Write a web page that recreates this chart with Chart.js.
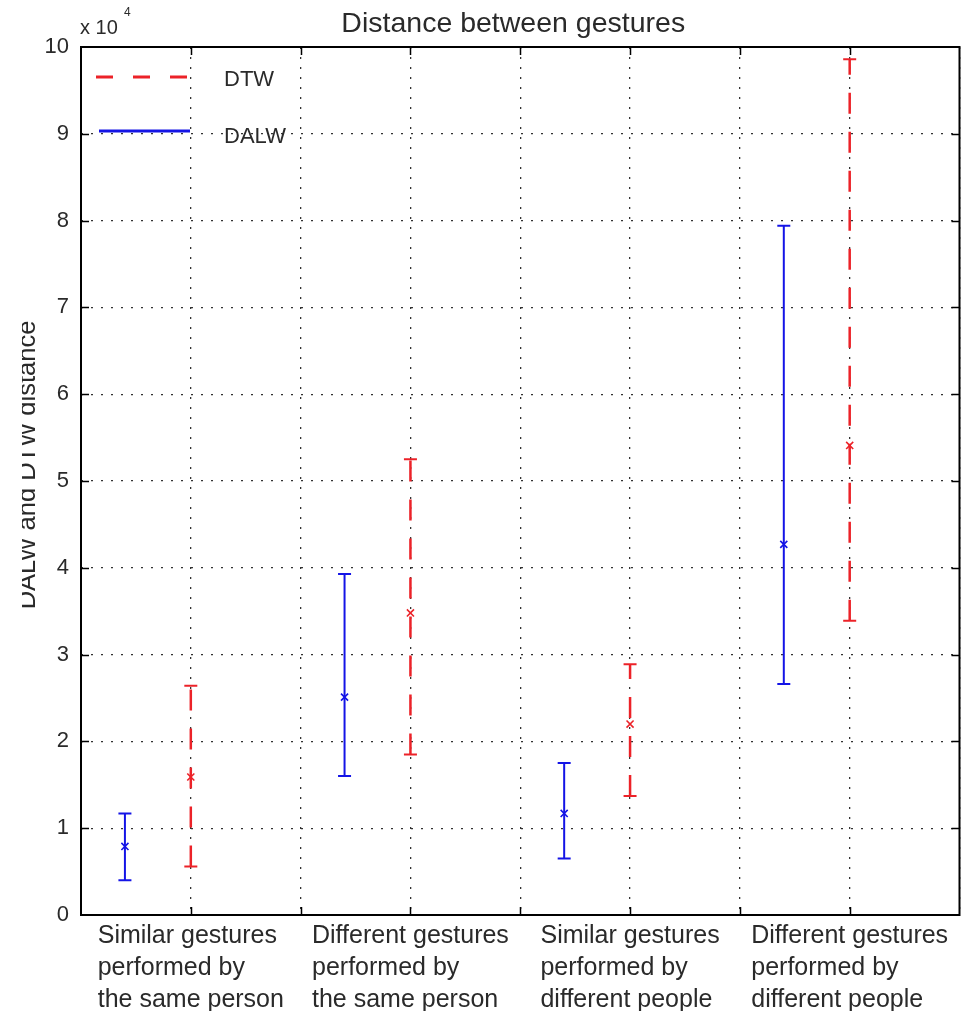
<!DOCTYPE html>
<html>
<head>
<meta charset="utf-8">
<script src="https://cdn.jsdelivr.net/npm/chart.js@4"></script>
<style>
  html, body { margin: 0; padding: 0; background: #ffffff; }
  canvas { display: block; }
</style>
</head>
<body>
<canvas id="c" width="968" height="1011"></canvas>
<script>
// ---------------- data ----------------
const categories = [
  ["Similar gestures", "performed by", "the same person"],
  ["Different gestures", "performed by", "the same person"],
  ["Similar gestures", "performed by", "different people"],
  ["Different gestures", "performed by", "different people"]
];
const seriesNames = ["DTW", "DALW"];
const dalwMean = [7900, 25100, 11700, 42700];
const dalwLow  = [4000, 16000, 6500, 26600];
const dalwHigh = [11700, 39300, 17500, 79400];
const dtwMean  = [15900, 34800, 22000, 54100];
const dtwLow   = [5600, 18500, 13700, 33900];
const dtwHigh  = [26400, 52500, 28900, 98600];
const yTickValues = [0, 1, 2, 3, 4, 5, 6, 7, 8, 9, 10];
const yScaleFactor = 10000;
const titleText = "Distance between gestures";
const yAxisTitle = "DALW and DTW distance";

// ---------------- styling ----------------
const FONT = "'Liberation Sans', Arial, Helvetica, sans-serif";
const RED = '#ec2228';
const BLUE = '#1414e6';
const TXT = '#2a2a2a';
const DTW_DASH = [21, 18];

// category position on x axis: DTW at tick 2i+1, DALW slightly left of it
const dtwX = i => 2 * i + 1;
const dalwX = i => 2 * i + 0.4;

function barPoints(xf, low, high) {
  const pts = [];
  low.forEach((lo, i) => {
    pts.push({ x: xf(i), y: lo });
    pts.push({ x: xf(i), y: high[i] });
    pts.push({ x: xf(i), y: null });
  });
  return pts;
}
function meanPoints(xf, mean) {
  return mean.map((m, i) => ({ x: xf(i), y: m }));
}

const datasets = [
  {
    label: 'DALW range', type: 'line', data: barPoints(dalwX, dalwLow, dalwHigh),
    borderColor: BLUE, borderWidth: 2, spanGaps: false, fill: false,
    pointStyle: 'line', pointRadius: 6.5, pointBorderWidth: 2,
    pointBorderColor: BLUE, pointBackgroundColor: BLUE, pointHoverRadius: 6.5
  },
  {
    label: 'DALW mean', type: 'line', showLine: false, data: meanPoints(dalwX, dalwMean),
    pointStyle: 'crossRot', pointRadius: 5, pointBorderWidth: 1.6,
    pointBorderColor: BLUE, borderColor: BLUE
  },
  {
    label: 'DTW range', type: 'line', data: barPoints(dtwX, dtwLow, dtwHigh),
    borderColor: RED, borderWidth: 2.5, borderDash: DTW_DASH, spanGaps: false, fill: false,
    pointStyle: 'line', pointRadius: 6.5, pointBorderWidth: 2,
    pointBorderColor: RED, pointBackgroundColor: RED, pointHoverRadius: 6.5
  },
  {
    label: 'DTW mean', type: 'line', showLine: false, data: meanPoints(dtwX, dtwMean),
    pointStyle: 'crossRot', pointRadius: 5, pointBorderWidth: 1.6,
    pointBorderColor: RED, borderColor: RED
  }
];

// ---------------- plugins ----------------
const boxPlugin = {
  id: 'boxTicks',
  afterDatasetsDraw(chart) {
    const { ctx, chartArea: a, scales: { x, y } } = chart;
    ctx.save();
    ctx.strokeStyle = '#000';
    ctx.lineWidth = 1.5;
    const TL = 8;
    ctx.beginPath();
    x.ticks.forEach(t => {
      if (t.value <= x.min || t.value >= x.max) return;
      const px = Math.round(x.getPixelForValue(t.value)) + 0.5;
      ctx.moveTo(px, a.bottom); ctx.lineTo(px, a.bottom - TL);
      ctx.moveTo(px, a.top); ctx.lineTo(px, a.top + TL);
    });
    y.ticks.forEach(t => {
      if (t.value <= y.min || t.value >= y.max) return;
      const py = Math.round(y.getPixelForValue(t.value)) + 0.5;
      ctx.moveTo(a.left, py); ctx.lineTo(a.left + TL, py);
      ctx.moveTo(a.right, py); ctx.lineTo(a.right - TL, py);
    });
    ctx.stroke();
    ctx.lineWidth = 2;
    ctx.strokeRect(a.left, a.top, a.right - a.left, a.bottom - a.top);
    ctx.restore();
  }
};

const textPlugin = {
  id: 'texts',
  afterDraw(chart) {
    const { ctx, chartArea: a, scales: { x } } = chart;
    ctx.save();
    ctx.fillStyle = TXT;
    // title
    ctx.font = `28.5px ${FONT}`;
    ctx.textAlign = 'center';
    ctx.textBaseline = 'alphabetic';
    ctx.fillText(titleText, (a.left + a.right) / 2 - 7, a.top - 15);
    // exponent label
    ctx.textAlign = 'left';
    ctx.font = `20px ${FONT}`;
    ctx.fillText('x 10', a.left - 1, a.top - 13);
    ctx.font = `12px ${FONT}`;
    ctx.fillText('4', a.left + 43, a.top - 31);
    // category labels: block centred on the tick, lines left-aligned
    ctx.font = `25px ${FONT}`;
    categories.forEach((lines, i) => {
      const px = x.getPixelForValue(dtwX(i));
      const w = Math.max(...lines.map(l => ctx.measureText(l).width));
      lines.forEach((l, k) => ctx.fillText(l, px - w / 2, a.bottom + 28 + k * 32));
    });
    // y axis title (clipped on its left side like the reference)
    ctx.save();
    ctx.beginPath();
    ctx.rect(22, 0, 200, chart.height);
    ctx.clip();
    ctx.translate(35, (a.top + a.bottom) / 2 - 16);
    ctx.rotate(-Math.PI / 2);
    ctx.textAlign = 'center';
    ctx.font = `25.5px ${FONT}`;
    ctx.fillText(yAxisTitle, 0, 0);
    ctx.restore();
    // legend
    const lx0 = a.left + 15, lx1 = a.left + 109;
    ctx.lineWidth = 3;
    ctx.strokeStyle = RED;
    ctx.setLineDash([17, 20]);
    ctx.beginPath();
    ctx.moveTo(lx0, a.top + 30); ctx.lineTo(lx1, a.top + 30);
    ctx.stroke();
    ctx.setLineDash([]);
    ctx.strokeStyle = BLUE;
    ctx.beginPath();
    ctx.moveTo(lx0 + 3, a.top + 84); ctx.lineTo(lx1, a.top + 84);
    ctx.stroke();
    ctx.font = `22px ${FONT}`;
    ctx.textBaseline = 'middle';
    ctx.fillStyle = TXT;
    ctx.fillText(seriesNames[0], a.left + 143, a.top + 33);
    ctx.fillText(seriesNames[1], a.left + 143, a.top + 90);
    ctx.restore();
  }
};

new Chart(document.getElementById('c'), {
  type: 'line',
  data: { datasets },
  options: {
    responsive: false,
    animation: false,
    events: [],
    layout: { padding: { top: 47, right: 7, left: 0, bottom: 0 } },
    plugins: { legend: { display: false }, title: { display: false }, tooltip: { enabled: false } },
    scales: {
      x: {
        type: 'linear', min: 0, max: 8,
        afterFit: s => { s.height = 96; },
        ticks: { stepSize: 1, autoSkip: false, maxRotation: 0, minRotation: 0, display: false },
        grid: { color: '#333', lineWidth: 1.3, drawTicks: false },
        border: { display: false, dash: [2, 8] }
      },
      y: {
        type: 'linear', min: yTickValues[0] * yScaleFactor, max: yTickValues[yTickValues.length - 1] * yScaleFactor,
        afterFit: s => { s.width = 81; },
        ticks: {
          stepSize: yScaleFactor, padding: 12, color: TXT,
          font: { family: FONT, size: 22 },
          callback: v => String(Math.round(v / yScaleFactor))
        },
        grid: { color: '#333', lineWidth: 1.3, drawTicks: false },
        border: { display: false, dash: [2, 8] }
      }
    }
  },
  plugins: [boxPlugin, textPlugin]
});
</script>
</body>
</html>
